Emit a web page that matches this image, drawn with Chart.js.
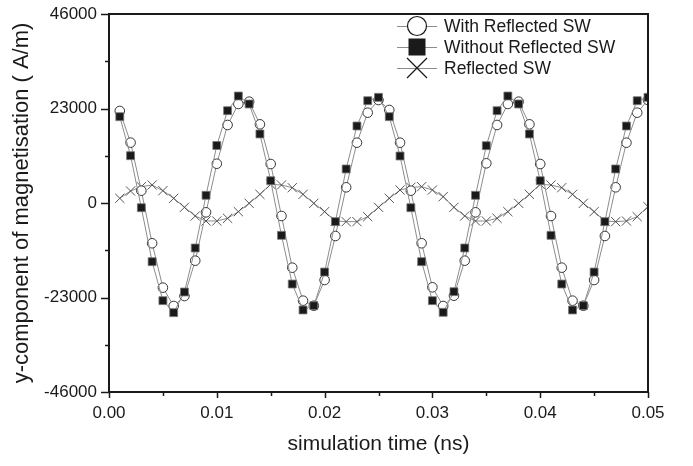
<!DOCTYPE html>
<html>
<head>
<meta charset="utf-8">
<script src="https://cdn.jsdelivr.net/npm/chart.js@4.4.0/dist/chart.umd.min.js"></script>
<style>
  html, body { margin: 0; padding: 0; background: #fff; }
  canvas { display: block; }
</style>
</head>
<body>
<canvas id="magChart" width="693" height="466"></canvas>
<script>
// simulation time (ns)
const times = [
  0.001, 0.002, 0.003, 0.004, 0.005, 0.006, 0.007, 0.008, 0.009, 0.010,
  0.011, 0.012, 0.013, 0.014, 0.015, 0.016, 0.017, 0.018, 0.019, 0.020,
  0.021, 0.022, 0.023, 0.024, 0.025, 0.026, 0.027, 0.028, 0.029, 0.030,
  0.031, 0.032, 0.033, 0.034, 0.035, 0.036, 0.037, 0.038, 0.039, 0.040,
  0.041, 0.042, 0.043, 0.044, 0.045, 0.046, 0.047, 0.048, 0.049, 0.050
];

// y-component of magnetisation (A/m)
const withReflected = [
  22400, 14700, 3000, -9800, -20600, -25070, -22640, -14040, -2270, 9560,
  18990, 24100, 24660, 19150, 9490, -3160, -15740, -23770, -25000, -18740,
  -8030, 3820, 14680, 21980, 25070, 22640, 14680, 3000, -9800, -20520,
  -25070, -22560, -14040, -2270, 9660, 18990, 24100, 24660, 19150, 9490,
  -3160, -15740, -23770, -25000, -18740, -8030, 3820, 14680, 21980, 25070
];
const withoutReflected = [
  21010, 11520, -1140, -14280, -23770, -26690, -21660, -10950, 1870, 14000,
  22470, 26040, 24100, 16800, 5430, -7870, -19720, -26040, -24990, -16800,
  -4540, 8280, 18740, 24900, 25720, 21010, 11440, -1140, -14280, -23770,
  -26610, -21580, -10950, 1870, 13950, 22470, 26040, 24100, 16800, 5430,
  -7870, -19720, -26040, -24990, -16800, -4540, 8280, 18740, 24900, 25720
];
const reflectedSW = [
  1140, 2920, 3970, 4380, 3000, 1140, -1050, -3160, -4380, -4380,
  -3730, -2110, -80, 2110, 4540, 4380, 3730, 2110, -80, -2110,
  -4380, -4540, -4540, -3330, -1050, 1140, 3160, 3820, 3970, 3160,
  1540, -1050, -3160, -4380, -4380, -3730, -2110, -80, 2110, 4540,
  4380, 3730, 2110, -80, -2110, -4380, -4540, -4380, -3330, -900
];

const seriesNames = ['With Reflected SW', 'Without Reflected SW', 'Reflected SW'];

const FONT = '"Liberation Sans", Arial, Helvetica, sans-serif';
const INK = '#1a1a1a';

function toPoints(values) {
  return values.map((v, i) => ({ x: times[i], y: v }));
}

// frame round the plot and outward tick marks (major long, minor short)
const framePlugin = {
  id: 'frame',
  afterDraw(chart) {
    const ctx = chart.ctx;
    const a = chart.chartArea;
    ctx.save();
    ctx.strokeStyle = INK;
    ctx.lineWidth = 2;
    ctx.strokeRect(a.left, a.top, a.right - a.left, a.bottom - a.top);

    ctx.lineWidth = 1.5;
    const ys = chart.scales.y;
    ys.ticks.forEach(t => {
      const p = Math.round(ys.getPixelForValue(t.value)) + 0.5;
      const major = t.value % 23000 === 0;
      ctx.beginPath();
      ctx.moveTo(a.left, p);
      ctx.lineTo(a.left - (major ? 8 : 4), p);
      ctx.stroke();
    });
    const xs = chart.scales.x;
    xs.ticks.forEach(t => {
      const p = Math.round(xs.getPixelForValue(t.value)) + 0.5;
      const major = Math.round(t.value * 1000) % 10 === 0;
      ctx.beginPath();
      ctx.moveTo(p, a.bottom);
      ctx.lineTo(p, a.bottom + (major ? 6 : 4));
      ctx.stroke();
    });
    ctx.restore();
  }
};

// legend in the upper right, symbol with a line through it
const legendPlugin = {
  id: 'symbolLegend',
  afterDraw(chart) {
    const ctx = chart.ctx;
    const rows = [26, 47, 68];
    ctx.save();
    rows.forEach((y, k) => {
      ctx.strokeStyle = '#8c8c8c';
      ctx.lineWidth = 1;
      ctx.beginPath();
      ctx.moveTo(397, y + 0.5);
      ctx.lineTo(437, y + 0.5);
      ctx.stroke();

      const cx = 417;
      if (k === 0) {
        ctx.fillStyle = '#fff';
        ctx.strokeStyle = INK;
        ctx.lineWidth = 1.2;
        ctx.beginPath();
        ctx.arc(cx, y, 9.5, 0, Math.PI * 2);
        ctx.fill();
        ctx.stroke();
      } else if (k === 1) {
        ctx.fillStyle = INK;
        ctx.fillRect(cx - 8.5, y - 8.5, 17, 17);
      } else {
        ctx.strokeStyle = INK;
        ctx.lineWidth = 1.2;
        ctx.beginPath();
        ctx.moveTo(cx - 10, y - 10); ctx.lineTo(cx + 10, y + 10);
        ctx.moveTo(cx - 10, y + 10); ctx.lineTo(cx + 10, y - 10);
        ctx.stroke();
      }

      ctx.fillStyle = INK;
      ctx.font = '17.5px ' + FONT;
      ctx.textAlign = 'left';
      ctx.textBaseline = 'middle';
      ctx.fillText(seriesNames[k], 444, y + 1);
    });
    ctx.restore();
  }
};

const chart = new Chart(document.getElementById('magChart'), {
  type: 'line',
  data: {
    datasets: [
      {
        label: seriesNames[0],
        data: toPoints(withReflected),
        borderColor: '#8c8c8c',
        borderWidth: 1,
        pointStyle: 'circle',
        pointRadius: 4.8,
        pointBackgroundColor: '#fff',
        pointBorderColor: '#222',
        pointBorderWidth: 0.9,
        order: 1
      },
      {
        label: seriesNames[1],
        data: toPoints(withoutReflected),
        borderColor: '#8c8c8c',
        borderWidth: 1,
        pointStyle: 'rect',
        pointRadius: 5.6,
        pointBackgroundColor: '#1a1a1a',
        pointBorderColor: '#777',
        pointBorderWidth: 0.8,
        order: 0
      },
      {
        label: seriesNames[2],
        data: toPoints(reflectedSW),
        borderColor: '#8c8c8c',
        borderWidth: 1,
        pointStyle: 'crossRot',
        pointRadius: 6.5,
        pointBorderColor: '#444',
        pointBorderWidth: 0.9,
        order: 2
      }
    ]
  },
  options: {
    responsive: false,
    animation: false,
    layout: { padding: { left: 0, right: 45, top: 14, bottom: 0 } },
    plugins: {
      legend: { display: false },
      tooltip: { enabled: false }
    },
    scales: {
      x: {
        type: 'linear',
        min: 0,
        max: 0.05,
        afterFit: s => { s.height = 74; s.paddingLeft = 0; s.paddingRight = 0; },
        grid: { display: false, tickLength: 0 },
        border: { display: false },
        ticks: {
          stepSize: 0.005,
          autoSkip: false,
          maxRotation: 0,
          padding: 11,
          color: INK,
          font: { family: FONT, size: 17 },
          callback: v => (Math.round(v * 1000) % 10 === 0 ? v.toFixed(2) : '')
        },
        title: {
          display: true,
          text: 'simulation time (ns)',
          color: INK,
          font: { family: FONT, size: 21 },
          padding: { top: 0, bottom: 9 }
        }
      },
      y: {
        min: -46000,
        max: 46000,
        afterFit: s => { s.width = 109; s.paddingTop = 0; s.paddingBottom = 0; },
        grid: { display: false, tickLength: 0 },
        border: { display: false },
        ticks: {
          stepSize: 11500,
          autoSkip: false,
          padding: 12,
          color: INK,
          font: { family: FONT, size: 17 },
          callback: v => (v % 23000 === 0 ? String(v) : '')
        },
        title: {
          display: true,
          text: 'y-component of magnetisation ( A/m)',
          color: INK,
          font: { family: FONT, size: 22 },
          padding: { top: 9, bottom: 0 }
        }
      }
    }
  },
  plugins: [framePlugin, legendPlugin]
});
</script>
</body>
</html>
